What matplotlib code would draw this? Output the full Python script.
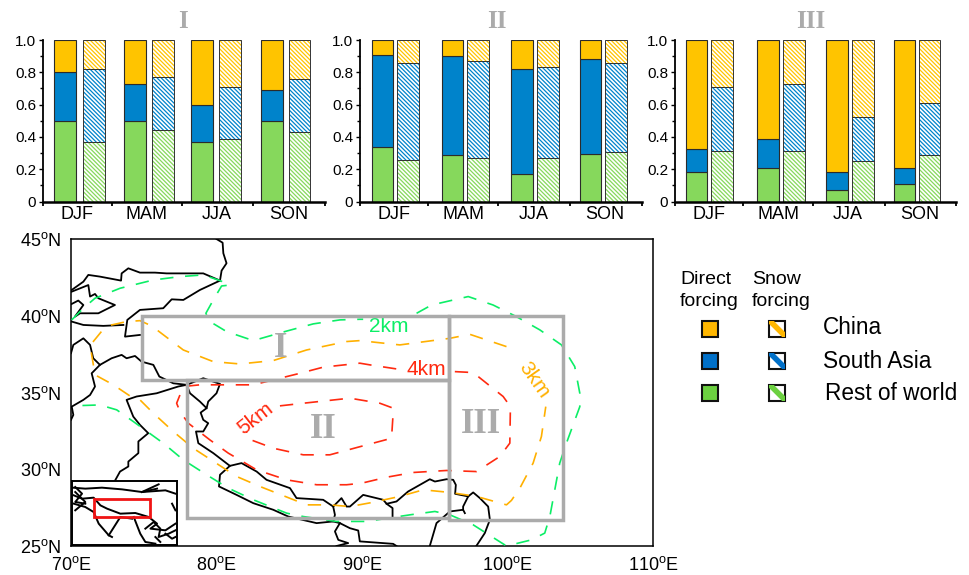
#!/usr/bin/env python3
"""Source shares of forcing over three Tibetan Plateau boxes, with the map of the boxes."""
import matplotlib
matplotlib.use('Agg')
import matplotlib.pyplot as plt
from matplotlib.patches import Rectangle

plt.rcParams.update({
    'font.family': 'Liberation Sans', 'mathtext.fontset': 'custom',
    'mathtext.rm': 'Liberation Sans', 'hatch.linewidth': 0.9,
})

SEASONS = ['DJF', 'MAM', 'JJA', 'SON']
REGIONS = ['I', 'II', 'III']

# shares per season: direct forcing
DIRECT_GREEN = [[.50, .50, .37, .50], [.34, .29, .17, .295], [.18, .21, .07, .11]]
DIRECT_BLUE  = [[.30, .23, .23, .19], [.57, .61, .65, .585], [.145, .18, .11, .10]]
DIRECT_CHINA = [[.20, .27, .40, .31], [.09, .10, .18, .12], [.675, .61, .82, .79]]
# shares per season: snow forcing
SNOW_GREEN = [[.37, .44, .39, .43], [.26, .27, .27, .305], [.31, .315, .25, .29]]
SNOW_BLUE  = [[.45, .33, .32, .33], [.60, .60, .565, .55], [.40, .41, .275, .32]]
SNOW_CHINA = [[.18, .23, .29, .24], [.14, .13, .165, .145], [.29, .275, .475, .39]]

# boxes on the map: lon0, lon1, lat0, lat1
BOXES = [(74.9, 96, 35.8, 40), (78, 96, 26.8, 35.8), (96, 103.8, 26.7, 40)]

# coast and border lines
COAST_LON = [
    [80.0, 80.42, 80.47, 80.69, 80.35, 80.24, 78.86, 77.72, 76.92, 76.34, 74.74, 73.87, 73.71, 74.74],
    [80.24, 79.09, 76.57, 75.77, 74.74, 73.94, 73.48, 73.44, 71.99, 71.19, 70.85, 70.05],
    [70.05, 71.19, 71.31, 71.65, 71.88, 73.02, 72.34, 71.88, 70.62, 70.27, 70.85, 70.5, 70.05],
    [70.05, 70.85, 72.22, 73.6],
    [70, 70.16, 70.85, 71.31, 71.53, 71.99, 72.79, 73.48, 73.82, 74.4, 74.85, 75.66, 76.07, 77.03, 77.95],
    [77.95, 79.09, 80.24, 80.0, 79.43, 79.32],
    [77.95, 78.18, 78.86, 79.32, 78.91, 79.09, 79.43, 79.09, 78.59, 78.75, 79.78, 80.92, 81.72, 82.76, 83.44,
     85.05, 85.5, 87.33, 88.02, 88.59, 88.94, 89.17, 90.08, 91.46, 91.69, 92.37, 93.17, 94.66, 95.01, 95.81,
     96.27, 96.45, 96.4, 97.3, 97.64, 98.1, 98.67, 98.79, 98.44, 97.87],
    [80.92, 80.24, 80.17, 81.38, 82.53, 83.9, 84.93, 86.88, 88.02, 88.14, 88.02],
    [88.02, 88.48, 89.17, 89.74, 89.85, 92.14, 92.37],
    [88.48, 88.14, 88.37, 89.05, 88.25],
    [91.69, 92.1, 92.1],
    [94.66, 95.12, 96.04, 96.95, 97.07],
    [96.95, 96.95, 97.3],
    [71.99, 71.42, 71.65, 71.31, 70.85, 70.05, 70.16, 70],
    [77.95, 77.37, 75.89, 74.51, 73.82, 74.28, 74.74, 75.31, 74.63, 74.63, 73.94, 73.94, 73.37, 73.02],
]
COAST_LAT = [
    [45.0, 44.76, 44.07, 43.42, 42.94, 42.29, 41.68, 41.03, 41.07, 40.49, 40.38, 39.73, 38.64, 38.75],
    [42.29, 42.76, 42.76, 42.81, 42.81, 43.09, 42.76, 42.29, 42.55, 42.66, 42.22, 41.68],
    [41.57, 42.0, 41.25, 41.42, 41.14, 40.7, 40.38, 40.16, 40.16, 39.94, 40.7, 40.99, 40.77],
    [39.62, 39.4, 39.34, 39.4],
    [37.56, 38.1, 38.53, 38.1, 37.23, 36.8, 37.23, 37.45, 37.23, 37.38, 37.01, 36.8, 36.04, 35.6, 35.5],
    [35.5, 35.93, 35.56, 34.95, 34.41, 33.98],
    [35.5, 34.95, 34.41, 33.98, 33.69, 33.22, 33.0, 32.46, 32.46, 31.7, 31.05, 30.22, 30.4, 29.85, 29.31,
     28.77, 28.12, 28.01, 27.57, 28.12, 27.57, 27.57, 28.33, 28.01, 27.75, 27.9, 28.55, 29.35, 29.2, 29.35,
     29.31, 28.98, 28.4, 28.23, 28.49, 28.12, 27.57, 26.71, 25.84, 25.02],
    [30.22, 29.64, 28.88, 28.33, 27.79, 27.36, 26.92, 26.49, 26.6, 27.03, 27.57],
    [26.6, 26.49, 26.16, 26.01, 25.3, 25.14, 25.0],
    [26.49, 25.95, 25.4, 25.19, 25.0],
    [27.75, 27.47, 26.92],
    [25.0, 26.49, 27.25, 27.36, 27.14],
    [27.36, 27.57, 28.23],
    [36.8, 36.25, 35.39, 34.84, 34.52, 34.08, 33.54, 33.22],
    [35.5, 35.39, 34.95, 34.74, 34.52, 33.43, 32.89, 32.35, 31.81, 31.05, 30.5, 30.18, 29.85, 29.25],
]

# terrain height contours, cut where the labels sit
KM2_LON = [
    [70.05, 70.85, 71.65, 73.37, 75.66, 77.49, 79.09, 80.24, 80.92, 80.35, 79.78, 79.27, 79.55, 80.69, 82.53,
     84.7, 86.65, 88.48, 89.85, 90.08],
    [93.75, 94.78, 97.3, 99.01, 100.62, 102.22, 103.71, 104.62, 104.97, 104.97, 104.05, 103.59, 103.25, 102.91,
     102.56, 101.65, 99.93, 97.64, 96.04, 95.01, 93.29, 90.31, 88.25, 85.96, 84.82, 82.53, 80.81, 79.32, 77.72,
     76.34, 74.28, 73.14, 71.99, 70.05],
]
KM2_LAT = [
    [39.73, 40.49, 41.14, 41.79, 42.33, 42.55, 42.66, 42.29, 42.0, 41.94, 41.03, 40.16, 39.62, 38.97, 38.38,
     38.97, 39.47, 39.73, 39.77, 39.77],
    [40.16, 40.7, 41.25, 40.7, 39.94, 39.08, 38.1, 36.69, 34.95, 34.08, 31.7, 30.4, 28.66, 26.92,
     25.84, 25.4, 25.0, 26.38, 27.03, 27.25, 27.03, 26.6, 26.6, 26.92, 27.14, 28.01, 28.77, 29.64, 30.61,
     31.7, 33.11, 33.87, 34.19, 34.13],
]
KM3_LON = [99.93, 97.41, 96.04, 92.6, 89.85, 88.94, 86.19, 83.9, 81.61, 79.78, 77.72, 75.54, 74.74, 73.82, 72.79,
           72.22, 71.53, 71.31, 71.65, 72.91, 74.28, 74.74, 75.66, 77.03, 78.4, 81.38, 82.98, 86.19, 87.79, 89.17,
           90.66, 92.6, 94.21, 96.04, 97.87, 99.93, 100.27, 100.85, 101.76, 102.33, 102.63]
KM3_LAT = [37.99, 38.79, 38.53, 38.1, 38.38, 38.32, 37.77, 37.08, 36.86, 37.01, 37.77, 39.34, 39.68, 39.62, 39.4,
           39.12, 38.32, 38.1, 36.15, 35.5, 34.63, 34.52, 33.65, 32.46, 31.37, 29.53, 28.88, 27.68, 27.68, 27.57,
           27.83, 28.23, 28.66, 28.49, 28.23, 27.68, 27.97, 28.77, 30.4, 32.13, 34.08]
KM4_LON = [96.38, 97.64, 99.7, 100.2, 100.16, 99.47, 97.87, 95.81, 93.52, 91.69, 89.97, 88.94, 86.88, 84.82, 82.76,
           80.81, 79.55, 78.06, 77.49, 77.26, 77.72, 78.86, 82.53, 85.73, 87.33, 89.85, 90.54, 92.83]
KM4_LAT = [36.36, 36.3, 34.74, 34.08, 31.7, 30.83, 29.85, 29.92, 29.79, 29.48, 29.09, 28.99, 28.99, 29.31, 29.96,
           31.05, 31.91, 33.0, 33.76, 34.3, 35.39, 35.5, 35.5, 36.25, 36.65, 36.91, 36.8, 36.47]
KM5_LON = [84.36, 85.96, 89.17, 91.23, 92.14, 92.14, 92.03, 89.74, 87.79, 85.96, 83.9, 82.07, 82.07]
KM5_LAT = [34.13, 34.3, 34.63, 34.3, 33.98, 33.65, 32.02, 31.44, 30.94, 30.94, 31.37, 32.02, 32.46]

# small locator map
INSET_LON = [
    [55.2, 64.1, 75.9, 90.1, 104.2, 114.9],
    [104.2, 120.8, 127.9],
    [104.2, 116],
    [55.9, 61.8, 70, 74.8, 79.5, 88.9, 99.5, 109, 114.9, 110.2, 120.8, 127.9],
    [55.9, 64.1, 70, 73.6, 80.7, 83],
    [80.7, 88.9, 97.2],
    [98.4, 103, 106.6, 113.7],
    [106.6, 112.5, 117.2, 116, 123.1, 127.9],
    [57, 64.1, 57],
    [57, 61.8, 57, 64.1],
    [113.7, 117.2],
    [120.8, 125.5, 127.9],
    [125.5, 127.9],
]
INSET_LAT = [
    [57.5, 56.4, 57.5, 55.6, 52.6, 56.4],
    [52.6, 54.5, 50.75],
    [52.6, 61.25],
    [48.9, 45.1, 46.25, 37.6, 33.9, 28.25, 29, 24.5, 17, 11.4, 9.5, 17],
    [39.5, 35.75, 30.1, 17, 3.9, 2],
    [3.9, 24.5, 22.6],
    [24.5, 5.75, -3.6, -5.5],
    [11.4, 18.9, 11.4, 2, 5.75, 9.5],
    [52.6, 41.4, 32],
    [58.25, 50.75, 41.4, 39.5],
    [2, -3.6],
    [5.75, 0.1, 2],
    [39.5, 32],
]

W, H = 969, 575
CHINA, SASIA, ROW = '#FFC400', '#0083CB', '#86D85C'
GREY = '#ABABAB'
DASH = (0, (8, 7))


def place(x0, y0, x1, y1, **kw):
    # axes from pixel box, y counted from the top of the picture
    return fig.add_axes([x0 / W, 1 - y1 / H, (x1 - x0) / W, (y1 - y0) / H], **kw)


fig = plt.figure(figsize=(W / 100, H / 100), dpi=100)

# ── Stacked bars ───────────────────────────────────────────────────────────
PANEL_X = [(43.3, 325), (360, 641.7), (675, 956)]
BAR_LEFT = [[33, 120, 243, 327, 444, 528, 653, 736],
            [35, 112, 245, 322, 454, 531, 659, 736],
            [32, 109, 247, 325, 454, 532, 658, 733]]
SEP_TICKS = [0, 205, 415, 630, 845]
LABEL_TICKS = [102, 310, 520, 735]

for p in range(3):
    ax = place(PANEL_X[p][0], 40, PANEL_X[p][1], 201.5)
    for s in range(4):
        x_d, x_s = BAR_LEFT[p][2 * s], BAR_LEFT[p][2 * s + 1]
        bottom = 0
        for share, col in zip((DIRECT_GREEN[p][s], DIRECT_BLUE[p][s], DIRECT_CHINA[p][s]), (ROW, SASIA, CHINA)):
            ax.bar(x_d, share, 65, bottom=bottom, align='edge', color=col, edgecolor='#2b2b2b', linewidth=0.8)
            bottom += share
        bottom = 0
        for share, col in zip((SNOW_GREEN[p][s], SNOW_BLUE[p][s], SNOW_CHINA[p][s]), (ROW, SASIA, CHINA)):
            ax.bar(x_s, share, 65, bottom=bottom, align='edge', color='white', edgecolor=col,
                   hatch='\\' * 8, linewidth=0)
            ax.bar(x_s, share, 65, bottom=bottom, align='edge', fill=False, edgecolor='#333333', linewidth=0.7)
            bottom += share
    ax.set_xlim(0, 845)
    ax.set_ylim(0, 1)
    ax.spines[['top', 'right']].set_visible(False)
    ax.spines['left'].set_linewidth(1.3)
    ax.spines['bottom'].set_linewidth(1.8)
    ax.set_xticks(SEP_TICKS)
    ax.set_xticklabels([])
    ax.set_xticks(LABEL_TICKS, labels=SEASONS, minor=True)
    ax.tick_params(axis='x', which='major', length=3, width=1.3)
    ax.tick_params(axis='x', which='minor', length=0, labelsize=13, pad=3)
    ax.set_yticks([0, 0.2, 0.4, 0.6, 0.8, 1.0], labels=['0', '0.2', '0.4', '0.6', '0.8', '1.0'])
    ax.set_yticks([0.1, 0.3, 0.5, 0.7, 0.9], minor=True)
    ax.tick_params(axis='y', which='major', length=3, width=1, labelsize=11, pad=2)
    ax.tick_params(axis='y', which='minor', length=2, width=1)

# ── Map ────────────────────────────────────────────────────────────────────
ax = place(71, 239, 653, 546)
for lon, lat in zip(COAST_LON, COAST_LAT):
    ax.plot(lon, lat, color='black', lw=1.3, zorder=2)
for lon, lat in zip(KM2_LON, KM2_LAT):
    ax.plot(lon, lat, color='#0CEE66', lw=1.2, ls=DASH, zorder=3)
ax.plot(KM3_LON, KM3_LAT, color='#FFB000', lw=1.2, ls=DASH, zorder=3)
ax.plot(KM4_LON, KM4_LAT, color='#FF2A10', lw=1.2, ls=DASH, zorder=3)
ax.plot(KM5_LON, KM5_LAT, color='#FF2A10', lw=1.2, ls=DASH, zorder=3)

for lon0, lon1, lat0, lat1 in BOXES:
    ax.add_patch(Rectangle((lon0, lat0), lon1 - lon0, lat1 - lat0, fill=False, edgecolor=GREY, lw=2.5, zorder=4))

ax.text(91.86, 39.27, '2km', color='#0CEE66', fontsize=15, ha='center', va='center')
ax.text(94.4, 36.47, '4km', color='#FF2A10', fontsize=15, ha='center', va='center')
ax.text(101.82, 35.81, '3km', color='#FFB000', fontsize=15, ha='center', va='center', rotation=-55)
ax.text(82.65, 33.34, '5km', color='#FF2A10', fontsize=15, ha='center', va='center', rotation=38)
for label, lon, lat in zip(REGIONS, (84.43, 87.32, 98.18), (37.86, 32.62, 32.94)):
    ax.text(lon, lat, label, color=GREY, fontsize=25, family='Liberation Serif', weight='bold',
            ha='center', va='center', zorder=5)

ax.set_xlim(70, 110)
ax.set_ylim(25, 45)
ax.set_xticks([70, 80, 90, 100, 110], labels=[f'{v}$^{{\\mathrm{{o}}}}$E' for v in (70, 80, 90, 100, 110)])
ax.set_yticks([25, 30, 35, 40, 45], labels=[f'{v}$^{{\\mathrm{{o}}}}$N' for v in (25, 30, 35, 40, 45)])
ax.tick_params(length=0, labelsize=13)
ax.tick_params(axis='x', pad=7)
ax.tick_params(axis='y', pad=7)
for sp in ax.spines.values():
    sp.set_linewidth(1.1)

inset = place(72, 481, 177, 545)
for lon, lat in zip(INSET_LON, INSET_LAT):
    inset.plot(lon, lat, color='black', lw=1.4)
inset.add_patch(Rectangle((70, 25), 40, 20, fill=False, edgecolor='#F01414', lw=2, zorder=4))
inset.set_xlim(54.7, 129)
inset.set_ylim(-7, 65)
inset.set_xticks([])
inset.set_yticks([])
for sp in inset.spines.values():
    sp.set_linewidth(1.4)

# ── Titles and legend, placed in picture pixels ────────────────────────────
top = place(0, 0, W, H, zorder=10)
top.set_xlim(0, W)
top.set_ylim(H, 0)
top.axis('off')
for label, x in zip(REGIONS, (183, 497, 811)):
    top.text(x, 21, label, color=GREY, fontsize=18, family='Liberation Serif', weight='bold',
             ha='center', va='center')

top.text(680, 279, 'Direct', fontsize=14, va='center')
top.text(680, 302, 'forcing', fontsize=14, va='center')
top.text(752, 279, 'Snow', fontsize=14, va='center')
top.text(752, 302, 'forcing', fontsize=14, va='center')

LEG_Y = [320.5, 352.5, 384.5]
LEG_TEXT_X = [823, 823, 825]
LEG_TEXT_Y = [328, 361, 393.5]
LEG_NAMES = ['China', 'South Asia', 'Rest of world']
for y, tx, ty, name, col in zip(LEG_Y, LEG_TEXT_X, LEG_TEXT_Y, LEG_NAMES, ('#FFB700', '#0070C8', '#6CD040')):
    top.add_patch(Rectangle((702, y), 16, 16, facecolor=col, edgecolor='#111111', lw=1.5))
    frame = Rectangle((769.5, y), 16, 16, facecolor='white', edgecolor='none')
    top.add_patch(frame)
    stripe, = top.plot([769.5, 785.5], [y, y + 16], color=col, lw=4, solid_capstyle='butt')
    stripe.set_clip_path(frame)
    top.add_patch(Rectangle((769.5, y), 16, 16, fill=False, edgecolor='#111111', lw=1.5))
    top.text(tx, ty, name, fontsize=16.3, va='center')

plt.savefig('out.png', dpi=100)
plt.close()
